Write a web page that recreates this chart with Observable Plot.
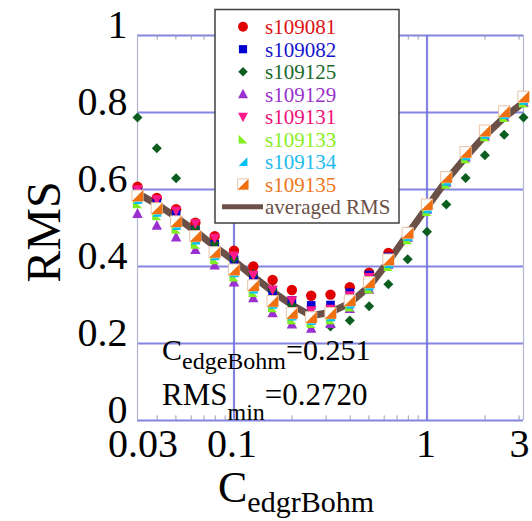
<!DOCTYPE html>
<html><head><meta charset="utf-8">
<script src="https://cdn.jsdelivr.net/npm/d3@7"></script>
<script src="https://cdn.jsdelivr.net/npm/@observablehq/plot@0.6"></script>
<style>body{margin:0;background:#fff}#chart{width:532px;height:521px}</style>
</head><body><div id="chart"></div>
<script>
// ---- data ----
const xValues = [0.031623, 0.039811, 0.050119, 0.063096, 0.079433, 0.1, 0.12589, 0.15849, 0.19953, 0.25119, 0.31623, 0.39811, 0.50119, 0.63096, 0.79433, 1, 1.2589, 1.5849, 1.9953, 2.5119, 3.1623];
const s109081 = [0.607, 0.578, 0.549, 0.514, 0.479, 0.441, 0.400, 0.365, 0.339, 0.324, 0.327, 0.346, 0.384, 0.435, 0.490, 0.562, 0.633, 0.698, 0.754, 0.804, 0.842];
const s109082 = [0.595, 0.566, 0.536, 0.495, 0.458, 0.418, 0.375, 0.335, 0.312, 0.299, 0.300, 0.332, 0.378, 0.425, 0.488, 0.560, 0.631, 0.696, 0.752, 0.802, 0.840];
const s109125 = [0.787, 0.707, 0.629, 0.500, 0.460, 0.420, 0.380, 0.340, 0.300, 0.270, 0.244, 0.260, 0.297, 0.354, 0.419, 0.490, 0.561, 0.630, 0.689, 0.742, 0.787];
const s109129 = [0.537, 0.506, 0.476, 0.443, 0.403, 0.359, 0.318, 0.279, 0.250, 0.239, 0.251, 0.290, 0.340, 0.405, 0.475, 0.548, 0.618, 0.683, 0.738, 0.788, 0.826];
const s109131 = [0.600, 0.574, 0.545, 0.512, 0.474, 0.428, 0.378, 0.340, 0.312, 0.286, 0.290, 0.325, 0.372, 0.420, 0.485, 0.556, 0.626, 0.690, 0.746, 0.796, 0.834];
const s109133 = [0.563, 0.532, 0.497, 0.458, 0.418, 0.373, 0.333, 0.293, 0.262, 0.252, 0.262, 0.295, 0.342, 0.400, 0.470, 0.543, 0.614, 0.680, 0.737, 0.787, 0.825];
const s109134 = [0.574, 0.541, 0.507, 0.469, 0.428, 0.384, 0.342, 0.302, 0.272, 0.260, 0.270, 0.303, 0.350, 0.408, 0.478, 0.550, 0.622, 0.688, 0.744, 0.795, 0.832];
const s109135 = [0.584, 0.551, 0.517, 0.479, 0.437, 0.392, 0.351, 0.310, 0.279, 0.268, 0.279, 0.312, 0.359, 0.418, 0.487, 0.561, 0.632, 0.697, 0.753, 0.803, 0.841];
const averagedRMS = [0.590, 0.562, 0.528, 0.492, 0.452, 0.415, 0.374, 0.335, 0.300, 0.272, 0.281, 0.305, 0.348, 0.413, 0.484, 0.554, 0.623, 0.684, 0.740, 0.787, 0.826];

const seriesNames = ["s109081", "s109082", "s109125", "s109129", "s109131", "s109133", "s109134", "s109135"];
const seriesData = [s109081, s109082, s109125, s109129, s109131, s109133, s109134, s109135];
const averagedName = "averaged RMS";

const yTicks = [0, 0.2, 0.4, 0.6, 0.8, 1];
const yTickLabels = ["0", "0.2", "0.4", "0.6", "0.8", "1"];
const xTicks = [0.031623, 0.1, 1, 3.1623];
const xTickLabels = ["0.03", "0.1", "1", "3"];
const xGrid = [0.1, 1];
const minorTicks = [0.04, 0.05, 0.06, 0.07, 0.08, 0.09, 0.2, 0.3, 0.4, 0.5, 0.6, 0.7, 0.8, 0.9, 2, 3];
const yLabel = "RMS";
const xLabelMain = "C", xLabelSub = "edgrBohm";
const CedgeBohm = "0.251";
const RMSmin = "0.2720";

// ---- styles ----
const markerColors = ["#e00000", "#0000d0", "#0b5e1f", "#9a30d0", "#ff1a8c", "#80ee20", "#00c0f8", "#f07010"];
const textColors = ["#dd1111", "#1515cc", "#1a6a2a", "#9933cc", "#ee1177", "#88ee22", "#22bbee", "#ee7722"];
const lineColor = "#6b5048";
const gridColor = "#6f6fdc";
const FONT = "'Liberation Serif', 'Times New Roman', serif";

const poly = (pts) => ({draw(ctx, size) {
  const r = Math.sqrt(size / Math.PI);
  ctx.moveTo(pts[0][0] * r, pts[0][1] * r);
  for (let i = 1; i < pts.length; i++) ctx.lineTo(pts[i][0] * r, pts[i][1] * r);
  ctx.closePath();
}});
const circleS = {draw(ctx, size) { const r = Math.sqrt(size / Math.PI); ctx.moveTo(r, 0); ctx.arc(0, 0, r, 0, 2 * Math.PI); }};
const squareS = poly([[-1, -1], [1, -1], [1, 1], [-1, 1]]);
const diamondS = poly([[0, -1], [1, 0], [0, 1], [-1, 0]]);
const triUpS = poly([[0, -1.1], [1, 0.8], [-1, 0.8]]);
const triDownS = poly([[-1, -0.8], [1, -0.8], [0, 1.1]]);
const triLLS = poly([[-1, -1], [-1, 1], [1, 1]]);
const triLRS = poly([[1, -1], [1, 1], [-1, 1]]);
const symbols = [circleS, squareS, diamondS, triUpS, triDownS, triLLS, triLRS, triLRS];
const radii = [5.2, 4.3, 5, 5.2, 5.2, 4.6, 4.6, 5.6];

const xOf = (d, i) => xValues[i];
const xLabelDx = [5.5, -2, -1, -4];

const marks = [
  Plot.ruleY(yTicks, {stroke: gridColor, strokeWidth: 2.2, strokeOpacity: 0.85}),
  Plot.ruleX(xGrid, {stroke: gridColor, strokeWidth: 2.2, strokeOpacity: 0.85}),
  Plot.ruleX([xValues[0], xValues[xValues.length - 1]], {stroke: "#b4b4d4", strokeWidth: 1.2}),
  Plot.ruleX(minorTicks, {y1: 0, y2: 0.012, stroke: "#9a9ab0", strokeWidth: 1}),
  Plot.ruleX(minorTicks, {y1: 1, y2: 0.988, stroke: "#9a9ab0", strokeWidth: 1}),
  Plot.line(averagedRMS, {x: xOf, y: d => d, stroke: lineColor, strokeWidth: 7, strokeLinejoin: "miter"})
];
seriesData.forEach((s, k) => {
  if (k === 7) {
    marks.push(Plot.dot(s, {x: xOf, y: d => d, symbol: squareS, r: radii[k], fill: "white", stroke: "#e6c4a8", strokeWidth: 1}));
  }
  marks.push(Plot.dot(s, {x: xOf, y: d => d, symbol: symbols[k], r: radii[k], fill: markerColors[k], stroke: "none"}));
});
xTicks.forEach((t, i) => {
  marks.push(Plot.text([t], {x: d => d, frameAnchor: "bottom", lineAnchor: "top", dy: 8, dx: xLabelDx[i],
    text: () => xTickLabels[i], fontSize: 40, fill: "black", clip: false}));
});
marks.push(Plot.axisY(yTicks, {tickSize: 0, tickPadding: 10, fontSize: 40, dy: -10, tickFormat: d => yTickLabels[yTicks.indexOf(d)], label: null, fill: "black"}));

const plot = Plot.plot({
  width: 532, height: 521,
  marginLeft: 137, marginRight: 9, marginTop: 35, marginBottom: 101,
  x: {type: "log", domain: [xValues[0], xValues[xValues.length - 1]], axis: null},
  y: {domain: [0, 1]},
  style: {fontFamily: FONT, background: "white", color: "black", overflow: "visible"},
  marks
});
document.getElementById("chart").appendChild(plot);

// ---- text labels and legend ----
const svg = d3.select(plot);
svg.append("text").attr("transform", "translate(60,232) rotate(-90)")
  .attr("text-anchor", "middle").attr("font-family", FONT).attr("font-size", 48).attr("fill", "black").text(yLabel);

function subText(x, y, parts) {
  const t = svg.append("text").attr("x", x).attr("y", y).attr("text-anchor", "start")
    .attr("font-family", FONT).attr("fill", "black");
  parts.forEach(p => t.append("tspan").attr("font-size", p.size).attr("dy", p.dy || 0).text(p.text));
}
subText(218, 502, [{text: xLabelMain, size: 44}, {text: xLabelSub, size: 30, dy: 10}]);
subText(162, 360, [{text: "C", size: 30}, {text: "edgeBohm", size: 24, dy: 9}, {text: "=" + CedgeBohm, size: 30, dy: -9}]);
subText(162, 405, [{text: "RMS", size: 31}, {text: "min", size: 24, dy: 15}, {text: "=" + RMSmin, size: 31, dy: -15}]);

const lg = svg.append("g").attr("text-anchor", "start");
lg.append("rect").attr("x", 215).attr("y", 9.5).attr("width", 184).attr("height", 213.5)
  .attr("fill", "white").attr("stroke", "#404040").attr("stroke-width", 1.5);
const rowY = (i) => 26.7 + 22.5 * i;
seriesNames.forEach((name, k) => {
  const cy = rowY(k);
  const r = radii[k] * 0.95;
  if (k === 7) {
    lg.append("path").attr("transform", `translate(243,${cy})`).attr("d", d3.symbol(squareS, r * r * Math.PI)())
      .attr("fill", "white").attr("stroke", "#e6c4a8");
  }
  lg.append("path").attr("transform", `translate(243,${cy})`).attr("d", d3.symbol(symbols[k], r * r * Math.PI)())
    .attr("fill", markerColors[k]);
  lg.append("text").attr("x", 265).attr("y", cy + 7.5).attr("font-family", FONT).attr("font-size", 21)
    .attr("fill", textColors[k]).text(name);
});
lg.append("line").attr("x1", 222).attr("x2", 263).attr("y1", rowY(8)).attr("y2", rowY(8))
  .attr("stroke", lineColor).attr("stroke-width", 5);
lg.append("text").attr("x", 265).attr("y", rowY(8) + 7.5).attr("font-family", FONT).attr("font-size", 21)
  .attr("fill", lineColor).text(averagedName);
</script>
</body></html>
